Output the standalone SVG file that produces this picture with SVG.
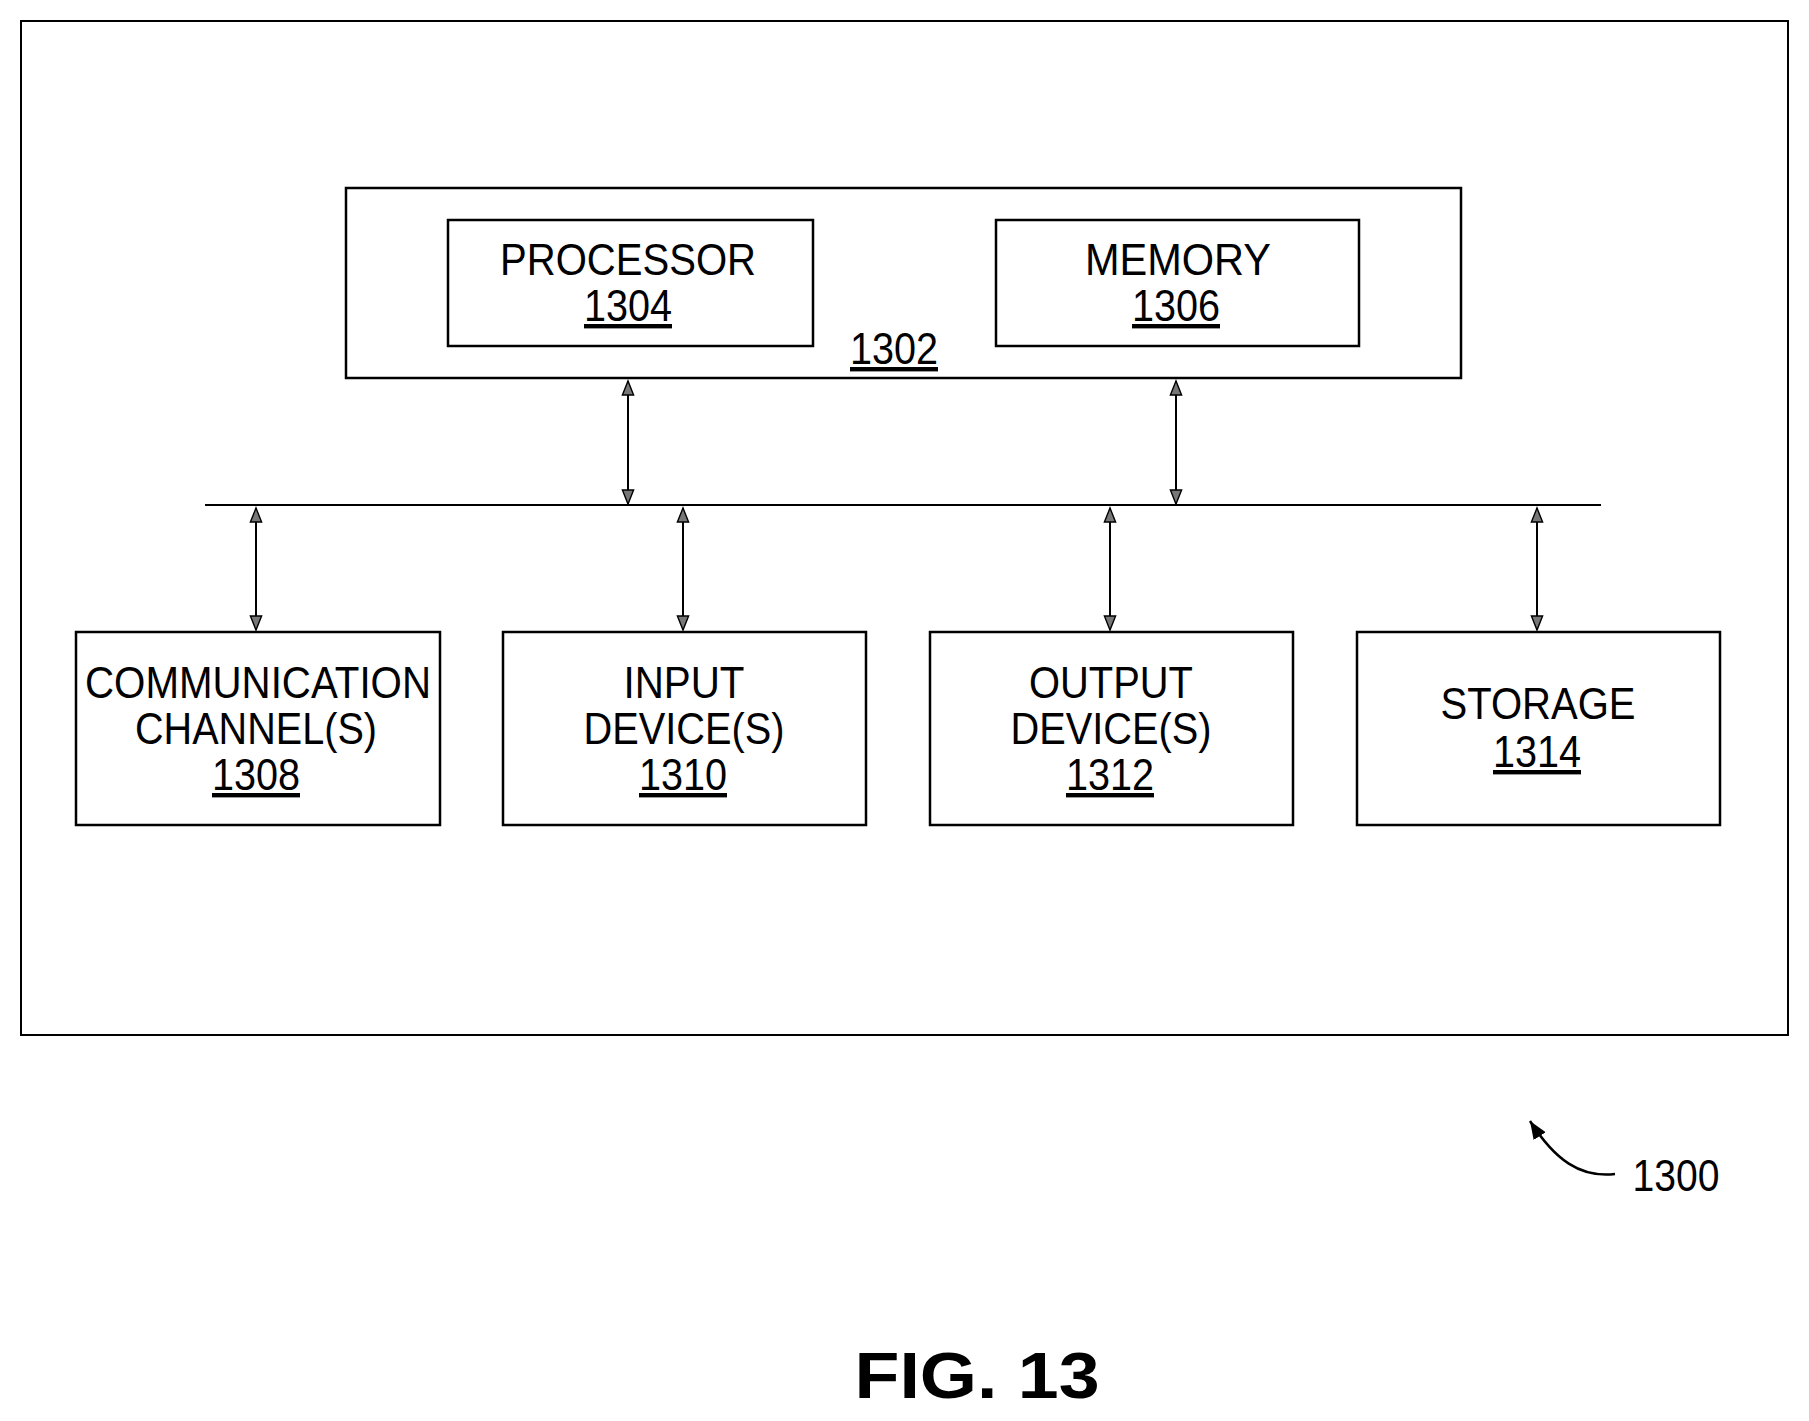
<svg xmlns="http://www.w3.org/2000/svg" width="1809" height="1421" viewBox="0 0 1809 1421">
<style>
rect{fill:#fff;stroke:#000;stroke-width:2.5}
text{font-family:"Liberation Sans",Arial,sans-serif;font-size:44px;text-anchor:middle;fill:#000}
.u{text-decoration:underline}
line,path{stroke:#000;stroke-width:2;fill:none}
</style>
<defs>
<marker id="a" viewBox="0 0 10 10" refX="10" refY="5" markerWidth="16" markerHeight="14" markerUnits="userSpaceOnUse" orient="auto-start-reverse" style="overflow:visible"><path d="M0,1 L10,5 L0,9 Z" style="fill:#777;stroke:#000;stroke-width:1"/></marker>
<marker id="b" viewBox="0 0 10 10" refX="10" refY="5" markerWidth="18" markerHeight="18" markerUnits="userSpaceOnUse" orient="auto"><path d="M0,1 L10,5 L0,9 Z" style="fill:#000;stroke:none"/></marker>
</defs>
<rect x="21" y="21" width="1767" height="1014" style="stroke-width:2"/>
<g id="n1302"><rect x="346" y="188" width="1115" height="190"/><text x="894" y="364" class="u" textLength="88" lengthAdjust="spacingAndGlyphs">1302</text></g>
<g id="n1304"><rect x="448" y="220" width="365" height="126"/><text x="628" y="275" textLength="256" lengthAdjust="spacingAndGlyphs">PROCESSOR</text><text x="628" y="321" class="u" textLength="88" lengthAdjust="spacingAndGlyphs">1304</text></g>
<g id="n1306"><rect x="996" y="220" width="363" height="126"/><text x="1178" y="275" textLength="186" lengthAdjust="spacingAndGlyphs">MEMORY</text><text x="1176" y="321" class="u" textLength="88" lengthAdjust="spacingAndGlyphs">1306</text></g>
<g id="n1308"><rect x="76" y="632" width="364" height="193"/><text x="258" y="698" textLength="346" lengthAdjust="spacingAndGlyphs">COMMUNICATION</text><text x="256" y="744" textLength="242" lengthAdjust="spacingAndGlyphs">CHANNEL(S)</text><text x="256" y="790" class="u" textLength="88" lengthAdjust="spacingAndGlyphs">1308</text></g>
<g id="n1310"><rect x="503" y="632" width="363" height="193"/><text x="684" y="698" textLength="121" lengthAdjust="spacingAndGlyphs">INPUT</text><text x="684" y="744" textLength="201" lengthAdjust="spacingAndGlyphs">DEVICE(S)</text><text x="683" y="790" class="u" textLength="88" lengthAdjust="spacingAndGlyphs">1310</text></g>
<g id="n1312"><rect x="930" y="632" width="363" height="193"/><text x="1111" y="698" textLength="164" lengthAdjust="spacingAndGlyphs">OUTPUT</text><text x="1111" y="744" textLength="201" lengthAdjust="spacingAndGlyphs">DEVICE(S)</text><text x="1110" y="790" class="u" textLength="88" lengthAdjust="spacingAndGlyphs">1312</text></g>
<g id="n1314"><rect x="1357" y="632" width="363" height="193"/><text x="1538" y="719" textLength="195" lengthAdjust="spacingAndGlyphs">STORAGE</text><text x="1537" y="767" class="u" textLength="88" lengthAdjust="spacingAndGlyphs">1314</text></g>
<g id="connectors">
<line x1="205" y1="505" x2="1601" y2="505"/>
<line x1="628" y1="381" x2="628" y2="504" marker-start="url(#a)" marker-end="url(#a)"/>
<line x1="1176" y1="381" x2="1176" y2="504" marker-start="url(#a)" marker-end="url(#a)"/>
<line x1="256" y1="508" x2="256" y2="630" marker-start="url(#a)" marker-end="url(#a)"/>
<line x1="683" y1="508" x2="683" y2="630" marker-start="url(#a)" marker-end="url(#a)"/>
<line x1="1110" y1="508" x2="1110" y2="630" marker-start="url(#a)" marker-end="url(#a)"/>
<line x1="1537" y1="508" x2="1537" y2="630" marker-start="url(#a)" marker-end="url(#a)"/>
<path d="M1615,1174 C1580,1178 1555,1160 1530,1121" marker-end="url(#b)" style="stroke-width:2.5"/>
</g>
<text x="1676" y="1191" textLength="87" lengthAdjust="spacingAndGlyphs">1300</text>
<text x="977" y="1398" style="font-weight:bold;font-size:64px" textLength="245" lengthAdjust="spacingAndGlyphs">FIG. 13</text>
</svg>
